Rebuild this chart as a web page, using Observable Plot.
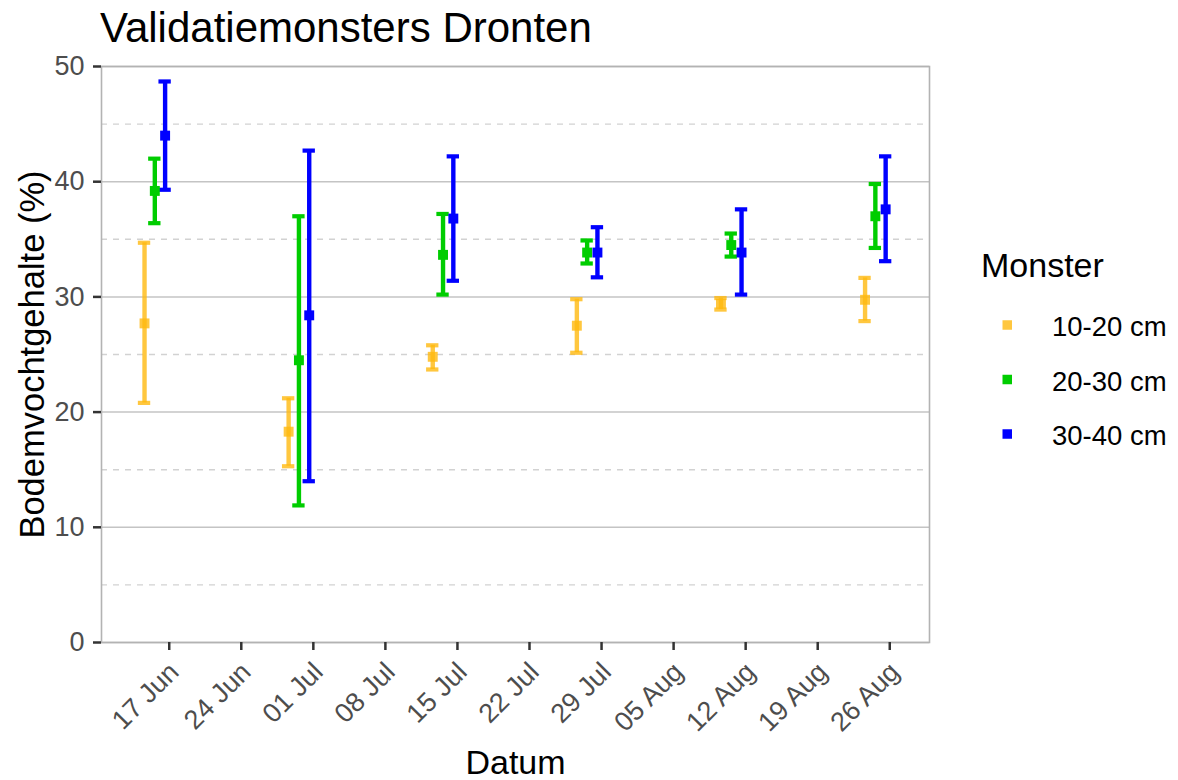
<!DOCTYPE html>
<html>
<head>
<meta charset="utf-8">
<script src="https://cdn.jsdelivr.net/npm/d3@7"></script>
<script src="https://cdn.jsdelivr.net/npm/@observablehq/plot@0.6"></script>
<style>
  body { margin: 0; background: #fff; font-family: "Liberation Sans", Arial, sans-serif; }
  #chart { position: relative; width: 1178px; height: 780px; overflow: hidden; }
  #title { position: absolute; left: 100px; top: 0; font-size: 42px; line-height: 42px; padding-top: 7px; color: #000; }
  #plot { position: absolute; left: 0; top: 56px; }
  #legend { position: absolute; left: 960px; top: 240px; }
</style>
</head>
<body>
<div id="chart">
  <div id="title">Validatiemonsters Dronten</div>
  <div id="plot"></div>
  <svg id="legend" width="218" height="230"></svg>
</div>
<script>
const monsters = ["10-20 cm", "20-30 cm", "30-40 cm"];
const colors = ["#FFB90F", "#00CD00", "#0000FF"];
const dates = ["2021-06-16", "2021-06-30", "2021-07-14", "2021-07-28", "2021-08-11", "2021-08-25"];

// gemiddelde, minimum en maximum per monsterdiepte
const mean1020 = [27.7, 18.3, 24.8, 27.5, 29.4, 29.75];
const low1020 = [20.8, 15.3, 23.7, 25.15, 28.9, 27.9];
const high1020 = [34.7, 21.2, 25.8, 29.8, 29.9, 31.65];
const mean2030 = [39.2, 24.5, 33.65, 33.85, 34.5, 37.0];
const low2030 = [36.4, 11.9, 30.2, 32.9, 33.5, 34.25];
const high2030 = [42.0, 37.0, 37.2, 34.9, 35.5, 39.8];
const mean3040 = [44.0, 28.4, 36.8, 33.85, 33.85, 37.6];
const low3040 = [39.3, 14.0, 31.4, 31.7, 30.2, 33.1];
const high3040 = [48.7, 42.7, 42.2, 36.05, 37.6, 42.2];

const xTicks = ["2021-06-17", "2021-06-24", "2021-07-01", "2021-07-08", "2021-07-15", "2021-07-22",
                "2021-07-29", "2021-08-05", "2021-08-12", "2021-08-19", "2021-08-26"];
const yTicks = [0, 10, 20, 30, 40, 50];
const yMinor = [5, 15, 25, 35, 45];

const xLabel = "Datum";
const yLabel = "Bodemvochtgehalte (%)";
const legendTitle = "Monster";

const DAY = 864e5;
const shiftDays = (d, n) => new Date(+d + n * DAY);
const dodge = {"10-20 cm": -1.4, "20-30 cm": -0.4, "30-40 cm": 0.6};
const alpha = {"10-20 cm": 0.8, "20-30 cm": 1, "30-40 cm": 1};

const series = [[mean1020, low1020, high1020], [mean2030, low2030, high2030], [mean3040, low3040, high3040]];
const rows = monsters.flatMap((m, i) => dates.map((d, j) => ({
  monster: m,
  date: new Date(d),
  mean: series[i][0][j],
  low: series[i][1][j],
  high: series[i][2][j]
})));

const xPos = d => shiftDays(d.date, dodge[d.monster]);
const capL = d => shiftDays(d.date, dodge[d.monster] - 0.6);
const capR = d => shiftDays(d.date, dodge[d.monster] + 0.6);
const op = d => alpha[d.monster];

function renderChart() {
  const plotDiv = document.getElementById('plot');
  plotDiv.innerHTML = '';
  const tickDates = xTicks.map(d => new Date(d));

  const chart = Plot.plot({
    width: 940,
    height: 724,
    marginLeft: 101,
    marginRight: 11,
    marginTop: 10,
    marginBottom: 138,
    style: {fontFamily: "'Liberation Sans', Arial, sans-serif", background: "white", overflow: "visible"},
    x: {type: "utc", domain: [shiftDays(tickDates[0], -6.58), shiftDays(tickDates[tickDates.length - 1], 3.86)]},
    y: {domain: [0, 50]},
    color: {domain: monsters, range: colors},
    marks: [
      Plot.ruleY(yMinor, {stroke: "#d2d2d2", strokeWidth: 1.4, strokeDasharray: "6,6"}),
      Plot.ruleY(yTicks, {stroke: "#c4c4c4", strokeWidth: 1.5}),
      Plot.frame({stroke: "#b3b3b3", strokeWidth: 1.6}),
      Plot.axisY(yTicks, {tickSize: 8, tickPadding: 9, fontSize: 27, stroke: "#333", strokeWidth: 2.5, fill: "#4d4d4d", label: null}),
      // tick streepjes
      Plot.axisX(tickDates, {tickSize: 8, tickFormat: () => "", stroke: "#333", strokeWidth: 2.5, label: null}),
      // gedraaide datumlabels
      Plot.axisX(tickDates, {
        tickSize: 0, tickPadding: 25, tickRotate: -45, fontSize: 27, dx: 5,
        tickFormat: d3.utcFormat("%d %b"), fill: "#4d4d4d", label: null
      }),
      Plot.ruleX(rows, {x: xPos, y1: "low", y2: "high", stroke: "monster", strokeWidth: 4.4, strokeOpacity: op}),
      Plot.ruleY(rows, {y: "high", x1: capL, x2: capR, stroke: "monster", strokeWidth: 4.2, strokeOpacity: op}),
      Plot.ruleY(rows, {y: "low", x1: capL, x2: capR, stroke: "monster", strokeWidth: 4.2, strokeOpacity: op}),
      Plot.dot(rows, {x: xPos, y: "mean", symbol: "square", r: 5.6, fill: "monster", fillOpacity: op, stroke: null}),
      Plot.text([yLabel], {frameAnchor: "left", textAnchor: "middle", rotate: -90, dx: -58, lineAnchor: "bottom", fontSize: 34.5, fill: "black"}),
      Plot.text([xLabel], {frameAnchor: "bottom", dy: 131, lineAnchor: "bottom", fontSize: 34, fill: "black"})
    ]
  });
  plotDiv.appendChild(chart);

  // legenda rechts
  const lg = d3.select('#legend');
  lg.append('text').attr('x', 21).attr('y', 37).attr('font-size', 34).attr('fill', 'black').text(legendTitle);
  monsters.forEach((m, i) => {
    const cy = 85 + i * 54.5;
    lg.append('rect').attr('x', 42.5).attr('y', cy - 4.75).attr('width', 9.5).attr('height', 9.5)
      .attr('fill', colors[i]).attr('fill-opacity', alpha[m]);
    lg.append('text').attr('x', 92).attr('y', cy + 11).attr('font-size', 27.5).attr('fill', 'black').text(m);
  });
}

window.addEventListener('DOMContentLoaded', renderChart);
</script>
</body>
</html>
